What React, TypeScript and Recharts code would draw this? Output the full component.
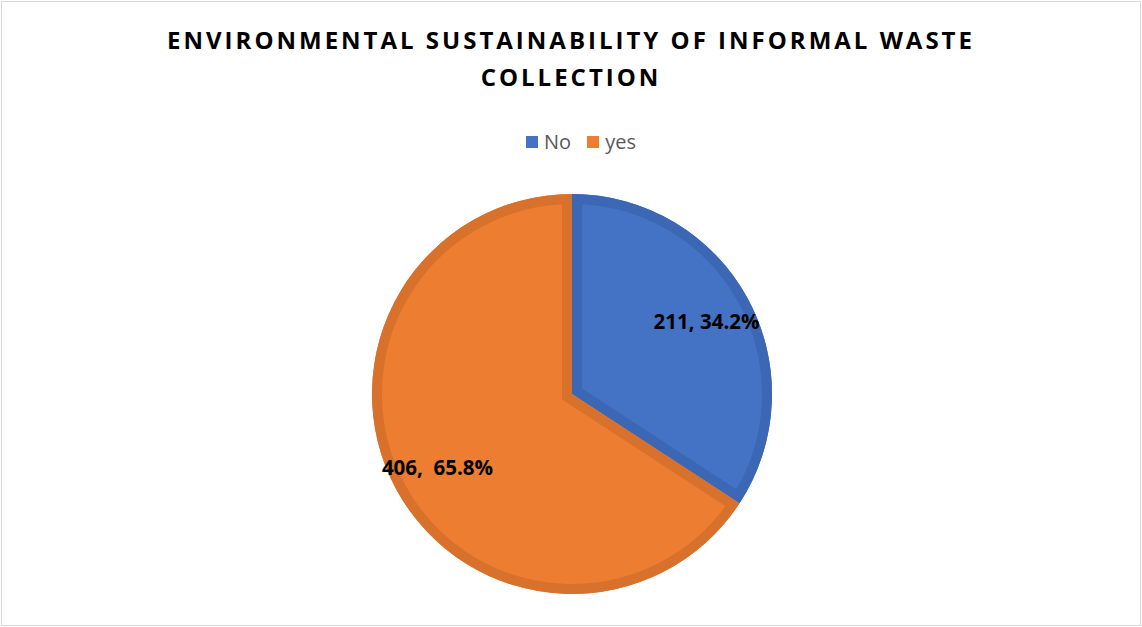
import React from 'react';
import { PieChart, Pie, Cell, Sector } from 'recharts';

const categories = ['No', 'yes'];
const counts = [211, 406];
const labelGaps = [' ', '  '];

const fillColors = ['#4472C4', '#ED7D31'];
const edgeColors = ['#3C67B4', '#D8712B'];

const data = categories.map((name, i) => ({ name, value: counts[i] }));

const RADIAN = Math.PI / 180;

// Excel-style inner border: a wide stroke clipped to the slice itself,
// plus the "count, percent" label inside the slice.
function SliceLabel(props: any) {
  const { cx, cy, outerRadius, startAngle, endAngle, midAngle, index, value, percent } = props;
  const clipId = `slice-clip-${index}`;
  const r = outerRadius * 0.765;
  const x = cx + r * Math.cos(-midAngle * RADIAN);
  const y = cy + r * Math.sin(-midAngle * RADIAN);
  const text = `${value},${labelGaps[index]}${(percent * 100).toFixed(1)}%`;
  return (
    <g>
      <defs>
        <clipPath id={clipId}>
          <Sector cx={cx} cy={cy} innerRadius={0} outerRadius={outerRadius} startAngle={startAngle} endAngle={endAngle} />
        </clipPath>
      </defs>
      <g clipPath={`url(#${clipId})`}>
        <Sector
          cx={cx}
          cy={cy}
          innerRadius={0}
          outerRadius={outerRadius}
          startAngle={startAngle}
          endAngle={endAngle}
          fill="none"
          stroke={edgeColors[index]}
          strokeWidth={20}
          strokeLinejoin="miter"
        />
      </g>
      <text
        x={x}
        y={y}
        textAnchor="middle"
        dominantBaseline="central"
        fill="#000"
        fontFamily="'Open Sans', sans-serif"
        fontWeight={700}
        fontSize={20.5}
        style={{ whiteSpace: 'pre' }}
      >
        {text}
      </text>
    </g>
  );
}

function LegendBar() {
  return (
    <div
      style={{
        position: 'absolute',
        left: 10,
        top: 128,
        width: 1142,
        display: 'flex',
        justifyContent: 'center',
        gap: 16,
        fontFamily: "'Open Sans', sans-serif",
        fontSize: 20,
        color: '#595959',
      }}
    >
      {categories.map((name, i) => (
        <div key={name} style={{ display: 'flex', alignItems: 'center', gap: 6 }}>
          <span style={{ width: 12, height: 12, background: fillColors[i], display: 'inline-block' }} />
          <span>{name}</span>
        </div>
      ))}
    </div>
  );
}

export default function App() {
  return (
    <div style={{ position: 'absolute', left: 0, top: 0, width: 1142, height: 627, background: '#fff' }}>
      <div style={{ position: 'absolute', left: 1, top: 1, width: 1138, height: 623, border: '1px solid #d9d9d9' }} />
      <div
        style={{
          position: 'absolute',
          left: 0,
          top: 21,
          width: 1142,
          textAlign: 'center',
          fontFamily: "'Open Sans', sans-serif",
          fontWeight: 700,
          fontSize: 24,
          letterSpacing: 3,
          lineHeight: '37px',
          color: '#000',
        }}
      >
        ENVIRONMENTAL SUSTAINABILITY OF INFORMAL WASTE
        <br />
        COLLECTION
      </div>
      <LegendBar />
      <PieChart
        width={1142}
        height={627}
        margin={{ top: 0, right: 0, bottom: 0, left: 0 }}
        style={{ position: 'absolute', left: 0, top: 0 }}
      >
        <Pie
          data={data}
          dataKey="value"
          nameKey="name"
          cx={572}
          cy={394}
          outerRadius={200}
          startAngle={90}
          endAngle={-270}
          stroke="none"
          label={SliceLabel}
          labelLine={false}
          isAnimationActive={false}
        >
          {data.map((d, i) => (
            <Cell key={d.name} fill={fillColors[i]} />
          ))}
        </Pie>
      </PieChart>
    </div>
  );
}
